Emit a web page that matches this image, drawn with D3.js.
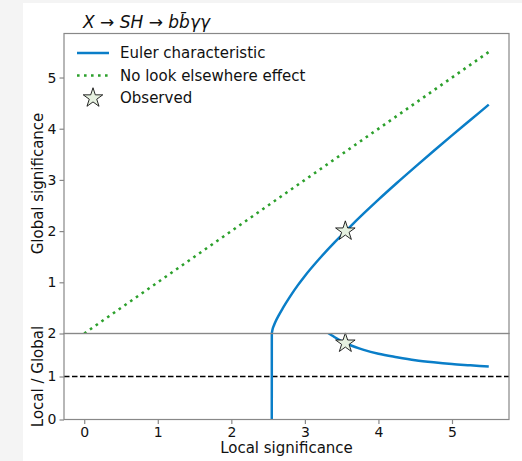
<!DOCTYPE html>
<html>
<head>
<meta charset="utf-8">
<script src="https://cdn.jsdelivr.net/npm/d3@7.9.0/dist/d3.min.js"></script>
<style>
  html, body { margin: 0; padding: 0; background: #f4f4f4; }
  svg { display: block; font-family: "DejaVu Sans", sans-serif; }
</style>
</head>
<body>
<div id="chart"></div>
<script>
// local significance grid and read-off values
const localSig = [2.55, 2.56, 2.58, 2.6, 2.65, 2.7, 2.8, 2.9, 3.0, 3.2, 3.4, 3.6, 3.8, 4.0, 4.25, 4.5, 4.75, 5.0, 5.25, 5.5];
const globalSig = [0, 0.08, 0.16, 0.23, 0.37, 0.495, 0.725, 0.935, 1.125, 1.465, 1.775, 2.065, 2.345, 2.615, 2.94, 3.255, 3.565, 3.87, 4.17, 4.47];
const ratio = [0, 32, 16.1, 11.3, 7.16, 5.45, 3.86, 3.10, 2.67, 2.18, 1.92, 1.74, 1.62, 1.53, 1.45, 1.38, 1.33, 1.29, 1.26, 1.23];
const noLee = [[0, 0], [5.5, 5.5]];
const observed = { local: 3.55, global: 2.0, ratio: 1.775 };
const xTicks = [0, 1, 2, 3, 4, 5];
const topTicks = [1, 2, 3, 4, 5];
const botTicks = [0, 1, 2];

const W = 522, H = 461;
const blue = '#0a7ec8', green = '#2ca02c', spine = '#888';

const svg = d3.select('#chart')
    .append('svg')
    .attr('width', W)
    .attr('height', H);

// white figure area
svg.append('rect')
    .attr('x', 23).attr('y', 3)
    .attr('width', W - 23).attr('height', H - 3)
    .attr('fill', '#fff');

const x = d3.scaleLinear().domain([-0.275, 5.775]).range([64, 509]);
const yTop = d3.scaleLinear().domain([0, 5.86]).range([333.5, 33.5]);
const yBot = d3.scaleLinear().domain([0, 2]).range([419.5, 333.5]);

const defs = svg.append('defs');
[['clipTop', yTop], ['clipBot', yBot]].forEach(([id, y]) => {
    defs.append('clipPath').attr('id', id)
        .append('rect')
        .attr('x', x.range()[0]).attr('y', y.range()[1])
        .attr('width', x.range()[1] - x.range()[0])
        .attr('height', y.range()[0] - y.range()[1]);
});

const star = d3.symbol().type(d3.symbolStar).size(118);

// top panel
const topPanel = svg.append('g').attr('clip-path', 'url(#clipTop)');

topPanel.append('path')
    .attr('d', d3.line().x(d => x(d[0])).y(d => yTop(d[1]))(noLee))
    .attr('fill', 'none')
    .attr('stroke', green)
    .attr('stroke-width', 2.6)
    .attr('stroke-dasharray', '2.6,4.4');

topPanel.append('path')
    .attr('d', d3.line().curve(d3.curveMonotoneX)
        .x((d, i) => x(localSig[i])).y(d => yTop(d))(globalSig))
    .attr('fill', 'none')
    .attr('stroke', blue)
    .attr('stroke-width', 2.5);

svg.append('path')
    .attr('d', star())
    .attr('transform', `translate(${x(observed.local)},${yTop(observed.global)})`)
    .attr('fill', '#e6f1e0')
    .attr('stroke', '#111')
    .attr('stroke-width', 0.9);

// bottom panel
const botPanel = svg.append('g').attr('clip-path', 'url(#clipBot)');

botPanel.append('line')
    .attr('x1', x.range()[0]).attr('x2', x.range()[1])
    .attr('y1', yBot(1)).attr('y2', yBot(1))
    .attr('stroke', '#000')
    .attr('stroke-width', 1.5)
    .attr('stroke-dasharray', '5.5,2.5');

botPanel.append('path')
    .attr('d', d3.line().curve(d3.curveMonotoneX)
        .x((d, i) => x(localSig[i])).y(d => yBot(d))(ratio))
    .attr('fill', 'none')
    .attr('stroke', blue)
    .attr('stroke-width', 2.5);

svg.append('path')
    .attr('d', star())
    .attr('transform', `translate(${x(observed.local)},${yBot(observed.ratio)})`)
    .attr('fill', '#e6f1e0')
    .attr('stroke', '#111')
    .attr('stroke-width', 0.9);

// frames
[yTop, yBot].forEach(y => {
    svg.append('rect')
        .attr('x', x.range()[0]).attr('y', y.range()[1])
        .attr('width', x.range()[1] - x.range()[0])
        .attr('height', y.range()[0] - y.range()[1])
        .attr('fill', 'none')
        .attr('stroke', spine)
        .attr('stroke-width', 1.2);
});

function styleAxis(g) {
    g.select('.domain').remove();
    g.selectAll('.tick line').attr('stroke', spine).attr('stroke-width', 1.2);
    g.selectAll('.tick text').attr('fill', '#111').style('font-size', '14px')
        .style('font-family', '"DejaVu Sans", sans-serif');
}

svg.append('g')
    .attr('transform', `translate(0,${yBot.range()[0]})`)
    .call(d3.axisBottom(x).tickValues(xTicks).tickFormat(d3.format('d')).tickSizeOuter(0).tickSize(4.5).tickPadding(3))
    .call(styleAxis);

svg.append('g')
    .attr('transform', `translate(${x.range()[0]},0)`)
    .call(d3.axisLeft(yTop).tickValues(topTicks).tickFormat(d3.format('d')).tickSize(4.5).tickPadding(3))
    .call(styleAxis);

svg.append('g')
    .attr('transform', `translate(${x.range()[0]},0)`)
    .call(d3.axisLeft(yBot).tickValues(botTicks).tickFormat(d3.format('d')).tickSize(4.5).tickPadding(3))
    .call(styleAxis);

// labels
svg.append('text')
    .attr('transform', `translate(43,${(yTop.range()[0] + yTop.range()[1]) / 2}) rotate(-90)`)
    .attr('text-anchor', 'middle')
    .style('font-size', '15px')
    .attr('fill', '#111')
    .text('Global significance');

svg.append('text')
    .attr('transform', `translate(43,${(yBot.range()[0] + yBot.range()[1]) / 2}) rotate(-90)`)
    .attr('text-anchor', 'middle')
    .style('font-size', '15px')
    .attr('fill', '#111')
    .text('Local / Global');

svg.append('text')
    .attr('x', (x.range()[0] + x.range()[1]) / 2)
    .attr('y', 453)
    .attr('text-anchor', 'middle')
    .style('font-size', '15px')
    .attr('fill', '#111')
    .text('Local significance');

// title
svg.append('text')
    .attr('x', 83)
    .attr('y', 28)
    .style('font-size', '17px')
    .style('font-style', 'italic')
    .attr('fill', '#111')
    .text('X \u2192 SH \u2192 bb\u0304\u03b3\u03b3');

// legend
const legend = svg.append('g');
const rows = [
    { label: 'Euler characteristic', type: 'line' },
    { label: 'No look elsewhere effect', type: 'dots' },
    { label: 'Observed', type: 'star' }
];
rows.forEach((r, i) => {
    const cy = 53 + i * 22.5;
    if (r.type === 'line') {
        legend.append('line')
            .attr('x1', 77).attr('x2', 109).attr('y1', cy).attr('y2', cy)
            .attr('stroke', blue).attr('stroke-width', 2.5);
    } else if (r.type === 'dots') {
        legend.append('line')
            .attr('x1', 77).attr('x2', 109).attr('y1', cy).attr('y2', cy)
            .attr('stroke', green).attr('stroke-width', 2.6)
            .attr('stroke-dasharray', '2.6,4.4');
    } else {
        legend.append('path')
            .attr('d', star())
            .attr('transform', `translate(93,${cy})`)
            .attr('fill', '#e6f1e0')
            .attr('stroke', '#111')
            .attr('stroke-width', 0.9);
    }
    legend.append('text')
        .attr('x', 120)
        .attr('y', cy)
        .attr('dy', '0.36em')
        .style('font-size', '15px')
        .attr('fill', '#111')
        .text(r.label);
});
</script>
</body>
</html>
